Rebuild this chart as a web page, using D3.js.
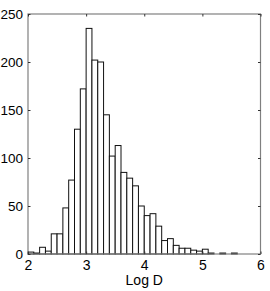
<!DOCTYPE html>
<html>
<head>
<meta charset="utf-8">
<script src="https://cdn.jsdelivr.net/npm/d3@7"></script>
<style>
  body { margin: 0; background: #fff; }
  text { font-family: "Liberation Sans", Arial, sans-serif; fill: #000; }
</style>
</head>
<body>
<script>
// histogram bins of Log D (bin width 0.1)
const binStarts = [2.0, 2.1, 2.2, 2.3, 2.4, 2.5, 2.6, 2.7, 2.8, 2.9,
  3.0, 3.1, 3.2, 3.3, 3.4, 3.5, 3.6, 3.7, 3.8, 3.9,
  4.0, 4.1, 4.2, 4.3, 4.4, 4.5, 4.6, 4.7, 4.8, 4.9,
  5.0, 5.1, 5.2, 5.3, 5.4, 5.5, 5.6, 5.7, 5.8, 5.9];
const counts = [2, 1, 7, 3, 21, 21, 48, 77, 130, 172,
  235, 202, 200, 145, 102, 113, 85, 79, 71, 50,
  40, 42, 29, 14, 16, 9, 6, 6, 4, 3,
  5, 1, 0, 1, 0, 1, 0, 0, 0, 0];
const binWidth = 0.1;
const xTicks = [2, 3, 4, 5, 6];
const yTicks = [0, 50, 100, 150, 200, 250];
const xLabel = 'Log D';

const w = 270, h = 291;
const mLeft = 28, mRight = 260.5, mTop = 14, mBottom = 254;

const x = d3.scaleLinear().domain([2, 6]).range([mLeft, mRight]);
const y = d3.scaleLinear().domain([0, 250]).range([mBottom, mTop]);

const svg = d3.select('body').append('svg')
  .attr('width', w)
  .attr('height', h);

const data = binStarts.map((s, i) => ({ start: s, count: counts[i] }));

svg.selectAll('rect.bar')
  .data(data)
  .enter()
  .append('rect')
  .attr('class', 'bar')
  .attr('x', d => x(d.start))
  .attr('y', d => y(d.count))
  .attr('width', d => x(d.start + binWidth) - x(d.start))
  .attr('height', d => y(0) - y(d.count))
  .attr('fill', '#fff')
  .attr('stroke', '#111')
  .attr('stroke-width', 1);

// box
svg.append('rect')
  .attr('x', mLeft)
  .attr('y', mTop)
  .attr('width', mRight - mLeft)
  .attr('height', mBottom - mTop)
  .attr('fill', 'none')
  .attr('stroke', '#808080')
  .attr('stroke-width', 1.2);

// axes with inward ticks
const tickLen = 2.5;
svg.append('g')
  .attr('transform', `translate(0,${mBottom})`)
  .call(d3.axisBottom(x).tickValues(xTicks).tickSize(-tickLen).tickPadding(6).tickFormat(d3.format('d')))
  .call(g => g.select('.domain').remove())
  .call(g => g.selectAll('text').attr('font-size', '14px').attr('dy', '0.71em'));
svg.append('g')
  .attr('transform', `translate(0,${mTop})`)
  .call(d3.axisTop(x).tickValues(xTicks).tickSize(-tickLen).tickFormat(''))
  .call(g => g.select('.domain').remove());
svg.append('g')
  .attr('transform', `translate(${mLeft},0)`)
  .call(d3.axisLeft(y).tickValues(yTicks).tickSize(-tickLen).tickPadding(5).tickFormat(d3.format('d')))
  .call(g => g.select('.domain').remove())
  .call(g => g.selectAll('text').attr('font-size', '13.5px'));
svg.append('g')
  .attr('transform', `translate(${mRight},0)`)
  .call(d3.axisRight(y).tickValues(yTicks).tickSize(-tickLen).tickFormat(''))
  .call(g => g.select('.domain').remove());

svg.selectAll('.tick line').attr('stroke', '#333');
svg.selectAll('.tick text').attr('font-family', '"Liberation Sans", Arial, sans-serif').attr('fill', '#000');

svg.append('text')
  .attr('x', (mLeft + mRight) / 2)
  .attr('y', 285)
  .attr('text-anchor', 'middle')
  .attr('font-size', '14px')
  .text(xLabel);
</script>
</body>
</html>
